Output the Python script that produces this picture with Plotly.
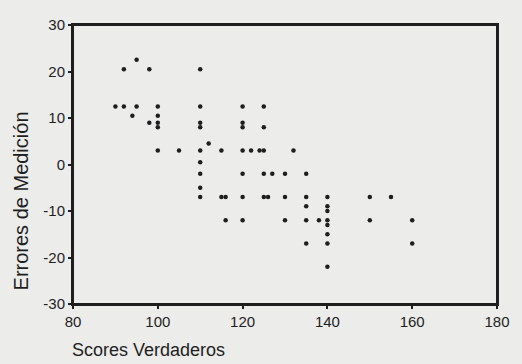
import plotly.graph_objects as go

scores_verdaderos = [
    95, 92, 98, 110,
    90, 92, 95, 100, 110, 120, 125,
    94, 100,
    98, 100, 110, 120,
    100, 110, 120, 125,
    112,
    100, 105, 110, 115, 120, 122, 124, 125, 132,
    110,
    110, 120, 125, 127, 130, 135,
    110,
    110, 115, 116, 120, 125, 126, 130, 135, 140, 150, 155,
    135, 140, 140,
    116, 120, 130, 135, 138, 140, 150, 160,
    140, 140,
    135, 140, 160,
    140,
]
errores_medicion = [
    22.5, 20.5, 20.5, 20.5,
    12.5, 12.5, 12.5, 12.5, 12.5, 12.5, 12.5,
    10.5, 10.5,
    9, 9, 9, 9,
    8, 8, 8, 8,
    4.5,
    3, 3, 3, 3, 3, 3, 3, 3, 3,
    0.5,
    -2, -2, -2, -2, -2, -2,
    -5,
    -7, -7, -7, -7, -7, -7, -7, -7, -7, -7, -7,
    -9, -9, -10,
    -12, -12, -12, -12, -12, -12, -12, -12,
    -13, -15,
    -17, -17, -17,
    -22,
]

x_ticks = [80, 100, 120, 140, 160, 180]
y_ticks = [-30, -20, -10, 0, 10, 20, 30]

x_title = "Scores Verdaderos"
y_title = "Errores de Medición"

FONT = "Liberation Sans, Arial, sans-serif"
INK = "#1e1e1e"
BG = "#ececea"

fig = go.Figure(
    go.Scatter(
        x=scores_verdaderos,
        y=errores_medicion,
        mode="markers",
        marker=dict(size=4.5, color=INK, line=dict(width=0)),
        hoverinfo="x+y",
        cliponaxis=False,
    )
)

W, H = 522, 364
ml, mr, mt, mb = 73, 13, 25, 60

axis_common = dict(
    showgrid=False,
    zeroline=False,
    showline=True,
    linecolor=INK,
    linewidth=2,
    mirror=True,
    ticks="outside",
    ticklen=3,
    tickwidth=2,
    tickcolor=INK,
    tickfont=dict(family=FONT, size=15, color=INK),
)

fig.update_layout(
    width=W,
    height=H,
    autosize=False,
    margin=dict(l=ml, r=mr, t=mt, b=mb),
    paper_bgcolor=BG,
    plot_bgcolor=BG,
    showlegend=False,
    xaxis=dict(range=[80, 180], tickvals=x_ticks, ticktext=[str(v) for v in x_ticks], **axis_common),
    yaxis=dict(range=[-30, 30], tickvals=y_ticks, ticktext=[str(v) for v in y_ticks], **axis_common),
    shapes=[
        dict(type="rect", xref="paper", yref="paper", x0=0, y0=0, x1=1, y1=1,
             line=dict(color=INK, width=2), fillcolor="rgba(0,0,0,0)", layer="above"),
    ],
    annotations=[
        dict(
            text=x_title,
            xref="paper", yref="paper",
            x=(151 - ml) / (W - ml - mr),
            y=-(350 - (H - mb)) / (H - mt - mb),
            xanchor="center", yanchor="middle",
            showarrow=False,
            font=dict(family=FONT, size=18, color=INK),
        ),
        dict(
            text=y_title,
            xref="paper", yref="paper",
            x=-(ml - 20) / (W - ml - mr),
            y=((H - mb) - 201) / (H - mt - mb),
            xanchor="center", yanchor="middle",
            textangle=-90,
            showarrow=False,
            font=dict(family=FONT, size=20, color=INK),
        ),
    ],
)

fig.write_html(
    "out.html",
    config={"displayModeBar": False, "responsive": False},
    post_script=(
        "document.documentElement.style.overflow='hidden';"
        "document.body.style.overflow='hidden';"
        "document.body.style.margin='0';"
        "document.body.style.padding='0';"
        "document.body.style.background='%s';"
        "Plotly.relayout('{plot_id}', {width: %d, height: %d});" % (BG, W, H)
    ),
)
